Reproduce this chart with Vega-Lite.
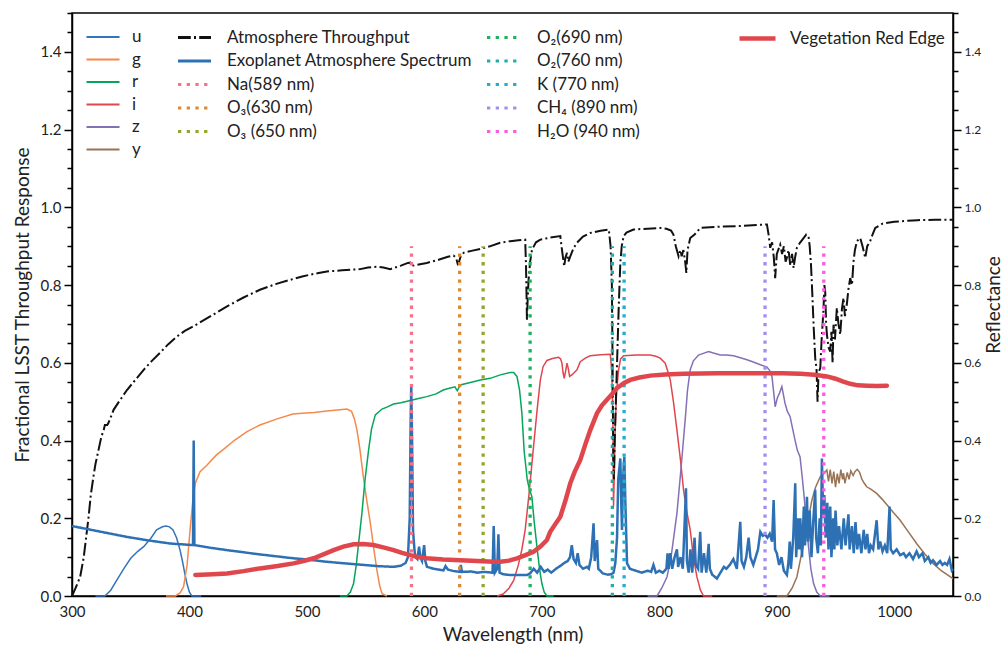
{
"$schema": "https://vega.github.io/schema/vega-lite/v6.json",
"autosize": "none",
"width": 881,
"height": 583,
"padding": {"left": 72, "top": 13, "right": 52, "bottom": 57},
"background": "white",
"config": {
  "view": {"stroke": "black", "strokeWidth": 1.5},
  "font": "Lato",
  "axis": {"grid": false, "domainColor": "black", "domainWidth": 1.5, "tickColor": "black", "labelColor": "#222", "titleColor": "#222", "labelFont": "Lato", "titleFont": "Lato", "titleFontWeight": "normal"},
  "legend": {"labelFont": "Lato", "labelFontSize": 17, "labelColor": "#222", "padding": 0, "labelLimit": 400}
},
"datasets": {
"filters": [
{"b":"u","wl":320,"t":0},{"b":"u","wl":328,"t":0},{"b":"u","wl":333,"t":0.015},{"b":"u","wl":338,"t":0.04},{"b":"u","wl":344,"t":0.07},{"b":"u","wl":350,"t":0.097},{"b":"u","wl":356,"t":0.115},{"b":"u","wl":361,"t":0.127},{"b":"u","wl":367,"t":0.148},{"b":"u","wl":372,"t":0.17},{"b":"u","wl":377,"t":0.178},{"b":"u","wl":380,"t":0.18},{"b":"u","wl":383,"t":0.178},{"b":"u","wl":386,"t":0.17},{"b":"u","wl":389,"t":0.15},{"b":"u","wl":392,"t":0.118},{"b":"u","wl":394,"t":0.09},{"b":"u","wl":396,"t":0.058},{"b":"u","wl":398,"t":0.03},{"b":"u","wl":400,"t":0.01},{"b":"u","wl":402,"t":0},{"b":"u","wl":410,"t":0},
{"b":"g","wl":380,"t":0},{"b":"g","wl":388,"t":0},{"b":"g","wl":392,"t":0.008},{"b":"g","wl":395,"t":0.024},{"b":"g","wl":398,"t":0.08},{"b":"g","wl":400.5,"t":0.17},{"b":"g","wl":403,"t":0.25},{"b":"g","wl":405,"t":0.29},{"b":"g","wl":409,"t":0.32},{"b":"g","wl":415,"t":0.337},{"b":"g","wl":423,"t":0.363},{"b":"g","wl":430,"t":0.38},{"b":"g","wl":438,"t":0.4},{"b":"g","wl":449,"t":0.423},{"b":"g","wl":460,"t":0.44},{"b":"g","wl":474,"t":0.455},{"b":"g","wl":488,"t":0.468},{"b":"g","wl":496,"t":0.47},{"b":"g","wl":506,"t":0.472},{"b":"g","wl":517,"t":0.476},{"b":"g","wl":528,"t":0.479},{"b":"g","wl":534,"t":0.481},{"b":"g","wl":538,"t":0.475},{"b":"g","wl":540.5,"t":0.455},{"b":"g","wl":542.6,"t":0.427},{"b":"g","wl":545,"t":0.38},{"b":"g","wl":548,"t":0.307},{"b":"g","wl":551,"t":0.245},{"b":"g","wl":554,"t":0.187},{"b":"g","wl":557,"t":0.12},{"b":"g","wl":559.6,"t":0.066},{"b":"g","wl":562,"t":0.025},{"b":"g","wl":564,"t":0.006},{"b":"g","wl":568,"t":0},
{"b":"r","wl":528,"t":0},{"b":"r","wl":534,"t":0},{"b":"r","wl":537,"t":0.01},{"b":"r","wl":539.7,"t":0.032},{"b":"r","wl":542,"t":0.08},{"b":"r","wl":544.5,"t":0.15},{"b":"r","wl":546.8,"t":0.213},{"b":"r","wl":549.5,"t":0.3},{"b":"r","wl":552.5,"t":0.376},{"b":"r","wl":555,"t":0.43},{"b":"r","wl":558.2,"t":0.466},{"b":"r","wl":563.9,"t":0.481},{"b":"r","wl":568,"t":0.486},{"b":"r","wl":573.8,"t":0.494},{"b":"r","wl":580,"t":0.497},{"b":"r","wl":588,"t":0.503},{"b":"r","wl":595,"t":0.508},{"b":"r","wl":602,"t":0.513},{"b":"r","wl":610,"t":0.52},{"b":"r","wl":616,"t":0.53},{"b":"r","wl":622,"t":0.535},{"b":"r","wl":626,"t":0.538},{"b":"r","wl":628,"t":0.528},{"b":"r","wl":630.5,"t":0.543},{"b":"r","wl":640,"t":0.55},{"b":"r","wl":647.6,"t":0.556},{"b":"r","wl":656,"t":0.56},{"b":"r","wl":664.6,"t":0.569},{"b":"r","wl":673,"t":0.575},{"b":"r","wl":676,"t":0.575},{"b":"r","wl":678.8,"t":0.565},{"b":"r","wl":681,"t":0.53},{"b":"r","wl":683,"t":0.47},{"b":"r","wl":685,"t":0.37},{"b":"r","wl":686.5,"t":0.33},{"b":"r","wl":687.5,"t":0.3},{"b":"r","wl":689,"t":0.28},{"b":"r","wl":691.5,"t":0.255},{"b":"r","wl":693.5,"t":0.19},{"b":"r","wl":695.8,"t":0.127},{"b":"r","wl":698,"t":0.07},{"b":"r","wl":700,"t":0.032},{"b":"r","wl":702,"t":0.01},{"b":"r","wl":704.3,"t":0},{"b":"r","wl":710,"t":0},
{"b":"i","wl":662,"t":0},{"b":"i","wl":667,"t":0.005},{"b":"i","wl":672,"t":0.02},{"b":"i","wl":676,"t":0.04},{"b":"i","wl":680,"t":0.08},{"b":"i","wl":683,"t":0.12},{"b":"i","wl":685.8,"t":0.17},{"b":"i","wl":689,"t":0.26},{"b":"i","wl":692.9,"t":0.384},{"b":"i","wl":696,"t":0.48},{"b":"i","wl":698.7,"t":0.556},{"b":"i","wl":701,"t":0.59},{"b":"i","wl":704.3,"t":0.606},{"b":"i","wl":709,"t":0.611},{"b":"i","wl":714.2,"t":0.614},{"b":"i","wl":716,"t":0.61},{"b":"i","wl":717.1,"t":0.599},{"b":"i","wl":718,"t":0.575},{"b":"i","wl":719,"t":0.56},{"b":"i","wl":720,"t":0.575},{"b":"i","wl":721.4,"t":0.599},{"b":"i","wl":722.5,"t":0.585},{"b":"i","wl":723.6,"t":0.565},{"b":"i","wl":726,"t":0.57},{"b":"i","wl":729.9,"t":0.582},{"b":"i","wl":732.7,"t":0.603},{"b":"i","wl":737,"t":0.612},{"b":"i","wl":741.2,"t":0.618},{"b":"i","wl":750,"t":0.621},{"b":"i","wl":758.2,"t":0.622},{"b":"i","wl":759.5,"t":0.58},{"b":"i","wl":760.5,"t":0.45},{"b":"i","wl":761,"t":0.23},{"b":"i","wl":761.8,"t":0.33},{"b":"i","wl":762.4,"t":0.427},{"b":"i","wl":763.5,"t":0.52},{"b":"i","wl":765.3,"t":0.582},{"b":"i","wl":767,"t":0.61},{"b":"i","wl":769.6,"t":0.618},{"b":"i","wl":780,"t":0.62},{"b":"i","wl":792.3,"t":0.62},{"b":"i","wl":797,"t":0.617},{"b":"i","wl":800.8,"t":0.612},{"b":"i","wl":805,"t":0.599},{"b":"i","wl":807,"t":0.58},{"b":"i","wl":809.3,"t":0.556},{"b":"i","wl":812,"t":0.5},{"b":"i","wl":815,"t":0.427},{"b":"i","wl":818,"t":0.35},{"b":"i","wl":820.6,"t":0.273},{"b":"i","wl":823.5,"t":0.215},{"b":"i","wl":826.3,"t":0.17},{"b":"i","wl":829,"t":0.1},{"b":"i","wl":832,"t":0.049},{"b":"i","wl":835,"t":0.015},{"b":"i","wl":837.7,"t":0},{"b":"i","wl":845,"t":0},
{"b":"z","wl":790,"t":0},{"b":"z","wl":798,"t":0},{"b":"z","wl":802,"t":0.02},{"b":"z","wl":806.5,"t":0.049},{"b":"z","wl":810,"t":0.1},{"b":"z","wl":815,"t":0.213},{"b":"z","wl":818.5,"t":0.33},{"b":"z","wl":822,"t":0.453},{"b":"z","wl":824,"t":0.53},{"b":"z","wl":826.3,"t":0.582},{"b":"z","wl":829,"t":0.605},{"b":"z","wl":833.4,"t":0.62},{"b":"z","wl":838,"t":0.625},{"b":"z","wl":841.9,"t":0.629},{"b":"z","wl":846,"t":0.625},{"b":"z","wl":851.9,"t":0.62},{"b":"z","wl":857,"t":0.62},{"b":"z","wl":863.2,"t":0.618},{"b":"z","wl":869,"t":0.613},{"b":"z","wl":874.6,"t":0.608},{"b":"z","wl":880,"t":0.602},{"b":"z","wl":886,"t":0.595},{"b":"z","wl":891.6,"t":0.589},{"b":"z","wl":894,"t":0.58},{"b":"z","wl":895.9,"t":0.565},{"b":"z","wl":897.5,"t":0.52},{"b":"z","wl":898.6,"t":0.487},{"b":"z","wl":900.5,"t":0.51},{"b":"z","wl":902.3,"t":0.522},{"b":"z","wl":904.3,"t":0.539},{"b":"z","wl":905.5,"t":0.52},{"b":"z","wl":907,"t":0.496},{"b":"z","wl":909,"t":0.475},{"b":"z","wl":911.3,"t":0.462},{"b":"z","wl":913.5,"t":0.43},{"b":"z","wl":915.6,"t":0.4},{"b":"z","wl":917.5,"t":0.375},{"b":"z","wl":919.8,"t":0.358},{"b":"z","wl":921.5,"t":0.31},{"b":"z","wl":923.3,"t":0.255},{"b":"z","wl":925,"t":0.19},{"b":"z","wl":927,"t":0.127},{"b":"z","wl":929,"t":0.07},{"b":"z","wl":931.3,"t":0.032},{"b":"z","wl":934,"t":0.01},{"b":"z","wl":937,"t":0},{"b":"z","wl":945,"t":0},
{"b":"y","wl":900,"t":0},{"b":"y","wl":908.6,"t":0},{"b":"y","wl":913,"t":0.02},{"b":"y","wl":917.1,"t":0.049},{"b":"y","wl":920.5,"t":0.1},{"b":"y","wl":924.2,"t":0.152},{"b":"y","wl":927,"t":0.2},{"b":"y","wl":929.9,"t":0.247},{"b":"y","wl":933,"t":0.28},{"b":"y","wl":937,"t":0.307},{"b":"y","wl":940,"t":0.315},{"b":"y","wl":942.6,"t":0.324},{"b":"y","wl":944,"t":0.295},{"b":"y","wl":945.5,"t":0.325},{"b":"y","wl":947,"t":0.29},{"b":"y","wl":948.5,"t":0.32},{"b":"y","wl":950,"t":0.28},{"b":"y","wl":951.5,"t":0.315},{"b":"y","wl":953,"t":0.29},{"b":"y","wl":954.5,"t":0.325},{"b":"y","wl":956,"t":0.3},{"b":"y","wl":956.8,"t":0.316},{"b":"y","wl":958,"t":0.29},{"b":"y","wl":960,"t":0.318},{"b":"y","wl":961.5,"t":0.3},{"b":"y","wl":963,"t":0.322},{"b":"y","wl":965,"t":0.31},{"b":"y","wl":966.5,"t":0.32},{"b":"y","wl":968.5,"t":0.326},{"b":"y","wl":970.5,"t":0.318},{"b":"y","wl":972.5,"t":0.3},{"b":"y","wl":974.5,"t":0.29},{"b":"y","wl":976.5,"t":0.281},{"b":"y","wl":980,"t":0.275},{"b":"y","wl":985,"t":0.264},{"b":"y","wl":990,"t":0.248},{"b":"y","wl":995,"t":0.23},{"b":"y","wl":1000,"t":0.212},{"b":"y","wl":1005,"t":0.195},{"b":"y","wl":1012,"t":0.165},{"b":"y","wl":1019,"t":0.135},{"b":"y","wl":1026,"t":0.108},{"b":"y","wl":1033,"t":0.084},{"b":"y","wl":1040,"t":0.065},{"b":"y","wl":1045,"t":0.055},{"b":"y","wl":1050,"t":0.045}
],
"spectra": [
{"s":"Atmosphere Throughput","wl":300,"t":0},{"s":"Atmosphere Throughput","wl":303,"t":0.02},{"s":"Atmosphere Throughput","wl":307,"t":0.05},{"s":"Atmosphere Throughput","wl":310,"t":0.1},{"s":"Atmosphere Throughput","wl":312,"t":0.15},{"s":"Atmosphere Throughput","wl":314,"t":0.2},{"s":"Atmosphere Throughput","wl":316,"t":0.26},{"s":"Atmosphere Throughput","wl":318.4,"t":0.31},{"s":"Atmosphere Throughput","wl":320,"t":0.34},{"s":"Atmosphere Throughput","wl":322.6,"t":0.376},{"s":"Atmosphere Throughput","wl":325,"t":0.41},{"s":"Atmosphere Throughput","wl":327,"t":0.427},{"s":"Atmosphere Throughput","wl":328,"t":0.44},{"s":"Atmosphere Throughput","wl":330,"t":0.44},{"s":"Atmosphere Throughput","wl":331,"t":0.445},{"s":"Atmosphere Throughput","wl":333,"t":0.46},{"s":"Atmosphere Throughput","wl":335.4,"t":0.479},{"s":"Atmosphere Throughput","wl":340,"t":0.5},{"s":"Atmosphere Throughput","wl":346.8,"t":0.53},{"s":"Atmosphere Throughput","wl":355,"t":0.56},{"s":"Atmosphere Throughput","wl":361,"t":0.582},{"s":"Atmosphere Throughput","wl":368,"t":0.605},{"s":"Atmosphere Throughput","wl":375,"t":0.626},{"s":"Atmosphere Throughput","wl":382,"t":0.648},{"s":"Atmosphere Throughput","wl":389.4,"t":0.668},{"s":"Atmosphere Throughput","wl":396,"t":0.682},{"s":"Atmosphere Throughput","wl":403.5,"t":0.694},{"s":"Atmosphere Throughput","wl":418,"t":0.72},{"s":"Atmosphere Throughput","wl":432,"t":0.745},{"s":"Atmosphere Throughput","wl":446,"t":0.768},{"s":"Atmosphere Throughput","wl":460,"t":0.788},{"s":"Atmosphere Throughput","wl":474,"t":0.803},{"s":"Atmosphere Throughput","wl":488.6,"t":0.816},{"s":"Atmosphere Throughput","wl":496,"t":0.822},{"s":"Atmosphere Throughput","wl":503,"t":0.827},{"s":"Atmosphere Throughput","wl":510,"t":0.831},{"s":"Atmosphere Throughput","wl":517,"t":0.835},{"s":"Atmosphere Throughput","wl":530,"t":0.838},{"s":"Atmosphere Throughput","wl":545.4,"t":0.841},{"s":"Atmosphere Throughput","wl":552,"t":0.845},{"s":"Atmosphere Throughput","wl":559.6,"t":0.847},{"s":"Atmosphere Throughput","wl":565,"t":0.845},{"s":"Atmosphere Throughput","wl":571,"t":0.841},{"s":"Atmosphere Throughput","wl":580,"t":0.85},{"s":"Atmosphere Throughput","wl":586,"t":0.857},{"s":"Atmosphere Throughput","wl":588,"t":0.858},{"s":"Atmosphere Throughput","wl":589,"t":0.848},{"s":"Atmosphere Throughput","wl":590,"t":0.85},{"s":"Atmosphere Throughput","wl":594,"t":0.852},{"s":"Atmosphere Throughput","wl":602,"t":0.857},{"s":"Atmosphere Throughput","wl":612,"t":0.865},{"s":"Atmosphere Throughput","wl":620,"t":0.873},{"s":"Atmosphere Throughput","wl":624.8,"t":0.876},{"s":"Atmosphere Throughput","wl":627,"t":0.87},{"s":"Atmosphere Throughput","wl":628.3,"t":0.855},{"s":"Atmosphere Throughput","wl":629.5,"t":0.86},{"s":"Atmosphere Throughput","wl":631,"t":0.875},{"s":"Atmosphere Throughput","wl":633.4,"t":0.883},{"s":"Atmosphere Throughput","wl":640,"t":0.888},{"s":"Atmosphere Throughput","wl":647.6,"t":0.893},{"s":"Atmosphere Throughput","wl":655,"t":0.899},{"s":"Atmosphere Throughput","wl":664.5,"t":0.909},{"s":"Atmosphere Throughput","wl":673,"t":0.913},{"s":"Atmosphere Throughput","wl":680,"t":0.915},{"s":"Atmosphere Throughput","wl":685.8,"t":0.917},{"s":"Atmosphere Throughput","wl":686.5,"t":0.85},{"s":"Atmosphere Throughput","wl":687.3,"t":0.711},{"s":"Atmosphere Throughput","wl":688,"t":0.77},{"s":"Atmosphere Throughput","wl":688.7,"t":0.814},{"s":"Atmosphere Throughput","wl":690,"t":0.86},{"s":"Atmosphere Throughput","wl":691.6,"t":0.891},{"s":"Atmosphere Throughput","wl":695,"t":0.91},{"s":"Atmosphere Throughput","wl":698.7,"t":0.917},{"s":"Atmosphere Throughput","wl":707,"t":0.922},{"s":"Atmosphere Throughput","wl":715.7,"t":0.926},{"s":"Atmosphere Throughput","wl":717.1,"t":0.891},{"s":"Atmosphere Throughput","wl":719,"t":0.848},{"s":"Atmosphere Throughput","wl":720,"t":0.87},{"s":"Atmosphere Throughput","wl":721.4,"t":0.883},{"s":"Atmosphere Throughput","wl":722.5,"t":0.86},{"s":"Atmosphere Throughput","wl":724.2,"t":0.874},{"s":"Atmosphere Throughput","wl":727,"t":0.895},{"s":"Atmosphere Throughput","wl":729.9,"t":0.909},{"s":"Atmosphere Throughput","wl":735,"t":0.925},{"s":"Atmosphere Throughput","wl":741.2,"t":0.934},{"s":"Atmosphere Throughput","wl":750,"t":0.94},{"s":"Atmosphere Throughput","wl":757,"t":0.943},{"s":"Atmosphere Throughput","wl":758.5,"t":0.9},{"s":"Atmosphere Throughput","wl":759.6,"t":0.8},{"s":"Atmosphere Throughput","wl":760.2,"t":0.6},{"s":"Atmosphere Throughput","wl":760.8,"t":0.35},{"s":"Atmosphere Throughput","wl":761.3,"t":0.3},{"s":"Atmosphere Throughput","wl":762,"t":0.4},{"s":"Atmosphere Throughput","wl":763,"t":0.5},{"s":"Atmosphere Throughput","wl":764,"t":0.6},{"s":"Atmosphere Throughput","wl":765.5,"t":0.75},{"s":"Atmosphere Throughput","wl":766.8,"t":0.857},{"s":"Atmosphere Throughput","wl":768,"t":0.9},{"s":"Atmosphere Throughput","wl":769.6,"t":0.926},{"s":"Atmosphere Throughput","wl":772,"t":0.935},{"s":"Atmosphere Throughput","wl":778,"t":0.943},{"s":"Atmosphere Throughput","wl":790,"t":0.945},{"s":"Atmosphere Throughput","wl":800.8,"t":0.947},{"s":"Atmosphere Throughput","wl":806,"t":0.945},{"s":"Atmosphere Throughput","wl":810,"t":0.94},{"s":"Atmosphere Throughput","wl":812,"t":0.93},{"s":"Atmosphere Throughput","wl":814,"t":0.9},{"s":"Atmosphere Throughput","wl":816.4,"t":0.874},{"s":"Atmosphere Throughput","wl":818,"t":0.89},{"s":"Atmosphere Throughput","wl":819,"t":0.874},{"s":"Atmosphere Throughput","wl":820.5,"t":0.89},{"s":"Atmosphere Throughput","wl":822,"t":0.86},{"s":"Atmosphere Throughput","wl":823,"t":0.831},{"s":"Atmosphere Throughput","wl":824,"t":0.89},{"s":"Atmosphere Throughput","wl":826.3,"t":0.921},{"s":"Atmosphere Throughput","wl":830,"t":0.93},{"s":"Atmosphere Throughput","wl":834.9,"t":0.947},{"s":"Atmosphere Throughput","wl":850,"t":0.95},{"s":"Atmosphere Throughput","wl":870,"t":0.952},{"s":"Atmosphere Throughput","wl":885,"t":0.955},{"s":"Atmosphere Throughput","wl":891.6,"t":0.956},{"s":"Atmosphere Throughput","wl":893,"t":0.93},{"s":"Atmosphere Throughput","wl":894.4,"t":0.896},{"s":"Atmosphere Throughput","wl":896,"t":0.91},{"s":"Atmosphere Throughput","wl":897.5,"t":0.87},{"s":"Atmosphere Throughput","wl":898.6,"t":0.818},{"s":"Atmosphere Throughput","wl":900,"t":0.88},{"s":"Atmosphere Throughput","wl":902.9,"t":0.904},{"s":"Atmosphere Throughput","wl":904.5,"t":0.88},{"s":"Atmosphere Throughput","wl":906,"t":0.9},{"s":"Atmosphere Throughput","wl":907.5,"t":0.86},{"s":"Atmosphere Throughput","wl":908.6,"t":0.87},{"s":"Atmosphere Throughput","wl":910,"t":0.89},{"s":"Atmosphere Throughput","wl":911.5,"t":0.85},{"s":"Atmosphere Throughput","wl":913,"t":0.88},{"s":"Atmosphere Throughput","wl":914.3,"t":0.844},{"s":"Atmosphere Throughput","wl":915.5,"t":0.87},{"s":"Atmosphere Throughput","wl":917.1,"t":0.896},{"s":"Atmosphere Throughput","wl":920,"t":0.91},{"s":"Atmosphere Throughput","wl":922.8,"t":0.921},{"s":"Atmosphere Throughput","wl":925,"t":0.93},{"s":"Atmosphere Throughput","wl":927,"t":0.926},{"s":"Atmosphere Throughput","wl":928,"t":0.9},{"s":"Atmosphere Throughput","wl":929.1,"t":0.853},{"s":"Atmosphere Throughput","wl":930.2,"t":0.78},{"s":"Atmosphere Throughput","wl":931.3,"t":0.698},{"s":"Atmosphere Throughput","wl":932.7,"t":0.612},{"s":"Atmosphere Throughput","wl":933.8,"t":0.585},{"s":"Atmosphere Throughput","wl":934.7,"t":0.5},{"s":"Atmosphere Throughput","wl":935.5,"t":0.575},{"s":"Atmosphere Throughput","wl":937,"t":0.586},{"s":"Atmosphere Throughput","wl":938,"t":0.65},{"s":"Atmosphere Throughput","wl":939,"t":0.7},{"s":"Atmosphere Throughput","wl":939.8,"t":0.741},{"s":"Atmosphere Throughput","wl":940.5,"t":0.8},{"s":"Atmosphere Throughput","wl":941.2,"t":0.784},{"s":"Atmosphere Throughput","wl":942,"t":0.7},{"s":"Atmosphere Throughput","wl":942.7,"t":0.672},{"s":"Atmosphere Throughput","wl":944,"t":0.64},{"s":"Atmosphere Throughput","wl":945.5,"t":0.629},{"s":"Atmosphere Throughput","wl":946.5,"t":0.68},{"s":"Atmosphere Throughput","wl":947.5,"t":0.6},{"s":"Atmosphere Throughput","wl":948.3,"t":0.698},{"s":"Atmosphere Throughput","wl":949.5,"t":0.66},{"s":"Atmosphere Throughput","wl":951.1,"t":0.741},{"s":"Atmosphere Throughput","wl":952.5,"t":0.7},{"s":"Atmosphere Throughput","wl":954,"t":0.672},{"s":"Atmosphere Throughput","wl":955.5,"t":0.74},{"s":"Atmosphere Throughput","wl":956.8,"t":0.767},{"s":"Atmosphere Throughput","wl":958,"t":0.72},{"s":"Atmosphere Throughput","wl":959.6,"t":0.75},{"s":"Atmosphere Throughput","wl":961,"t":0.79},{"s":"Atmosphere Throughput","wl":962.5,"t":0.818},{"s":"Atmosphere Throughput","wl":964,"t":0.8},{"s":"Atmosphere Throughput","wl":965.3,"t":0.861},{"s":"Atmosphere Throughput","wl":966.5,"t":0.89},{"s":"Atmosphere Throughput","wl":968.2,"t":0.913},{"s":"Atmosphere Throughput","wl":971,"t":0.921},{"s":"Atmosphere Throughput","wl":973,"t":0.9},{"s":"Atmosphere Throughput","wl":975.3,"t":0.87},{"s":"Atmosphere Throughput","wl":977,"t":0.9},{"s":"Atmosphere Throughput","wl":979.5,"t":0.913},{"s":"Atmosphere Throughput","wl":981.5,"t":0.93},{"s":"Atmosphere Throughput","wl":983.8,"t":0.947},{"s":"Atmosphere Throughput","wl":990,"t":0.958},{"s":"Atmosphere Throughput","wl":1000,"t":0.963},{"s":"Atmosphere Throughput","wl":1010,"t":0.965},{"s":"Atmosphere Throughput","wl":1020,"t":0.967},{"s":"Atmosphere Throughput","wl":1035,"t":0.968},{"s":"Atmosphere Throughput","wl":1050,"t":0.968},
{"s":"Exoplanet Atmosphere Spectrum","wl":300,"t":0.18},{"s":"Exoplanet Atmosphere Spectrum","wl":320,"t":0.168},{"s":"Exoplanet Atmosphere Spectrum","wl":346.8,"t":0.152},{"s":"Exoplanet Atmosphere Spectrum","wl":365,"t":0.143},{"s":"Exoplanet Atmosphere Spectrum","wl":383.7,"t":0.135},{"s":"Exoplanet Atmosphere Spectrum","wl":403,"t":0.131},{"s":"Exoplanet Atmosphere Spectrum","wl":403.6,"t":0.4},{"s":"Exoplanet Atmosphere Spectrum","wl":404.2,"t":0.131},{"s":"Exoplanet Atmosphere Spectrum","wl":418,"t":0.124},{"s":"Exoplanet Atmosphere Spectrum","wl":432,"t":0.118},{"s":"Exoplanet Atmosphere Spectrum","wl":460,"t":0.107},{"s":"Exoplanet Atmosphere Spectrum","wl":488.6,"t":0.097},{"s":"Exoplanet Atmosphere Spectrum","wl":500,"t":0.094},{"s":"Exoplanet Atmosphere Spectrum","wl":517,"t":0.088},{"s":"Exoplanet Atmosphere Spectrum","wl":540,"t":0.082},{"s":"Exoplanet Atmosphere Spectrum","wl":559.6,"t":0.077},{"s":"Exoplanet Atmosphere Spectrum","wl":573.8,"t":0.075},{"s":"Exoplanet Atmosphere Spectrum","wl":580,"t":0.078},{"s":"Exoplanet Atmosphere Spectrum","wl":584,"t":0.085},{"s":"Exoplanet Atmosphere Spectrum","wl":586,"t":0.1},{"s":"Exoplanet Atmosphere Spectrum","wl":587.5,"t":0.2},{"s":"Exoplanet Atmosphere Spectrum","wl":588.3,"t":0.45},{"s":"Exoplanet Atmosphere Spectrum","wl":588.8,"t":0.539},{"s":"Exoplanet Atmosphere Spectrum","wl":589.5,"t":0.4},{"s":"Exoplanet Atmosphere Spectrum","wl":590.3,"t":0.17},{"s":"Exoplanet Atmosphere Spectrum","wl":591.5,"t":0.12},{"s":"Exoplanet Atmosphere Spectrum","wl":592.3,"t":0.1},{"s":"Exoplanet Atmosphere Spectrum","wl":594,"t":0.095},{"s":"Exoplanet Atmosphere Spectrum","wl":595.5,"t":0.127},{"s":"Exoplanet Atmosphere Spectrum","wl":596.5,"t":0.1},{"s":"Exoplanet Atmosphere Spectrum","wl":598,"t":0.09},{"s":"Exoplanet Atmosphere Spectrum","wl":599.8,"t":0.131},{"s":"Exoplanet Atmosphere Spectrum","wl":600.8,"t":0.09},{"s":"Exoplanet Atmosphere Spectrum","wl":602.2,"t":0.075},{"s":"Exoplanet Atmosphere Spectrum","wl":608,"t":0.07},{"s":"Exoplanet Atmosphere Spectrum","wl":612,"t":0.068},{"s":"Exoplanet Atmosphere Spectrum","wl":616.3,"t":0.066},{"s":"Exoplanet Atmosphere Spectrum","wl":618,"t":0.077},{"s":"Exoplanet Atmosphere Spectrum","wl":620,"t":0.068},{"s":"Exoplanet Atmosphere Spectrum","wl":625,"t":0.064},{"s":"Exoplanet Atmosphere Spectrum","wl":630.5,"t":0.062},{"s":"Exoplanet Atmosphere Spectrum","wl":631,"t":0.08},{"s":"Exoplanet Atmosphere Spectrum","wl":632,"t":0.062},{"s":"Exoplanet Atmosphere Spectrum","wl":640,"t":0.063},{"s":"Exoplanet Atmosphere Spectrum","wl":645,"t":0.06},{"s":"Exoplanet Atmosphere Spectrum","wl":650,"t":0.062},{"s":"Exoplanet Atmosphere Spectrum","wl":655,"t":0.061},{"s":"Exoplanet Atmosphere Spectrum","wl":658,"t":0.06},{"s":"Exoplanet Atmosphere Spectrum","wl":659,"t":0.18},{"s":"Exoplanet Atmosphere Spectrum","wl":660,"t":0.06},{"s":"Exoplanet Atmosphere Spectrum","wl":662,"t":0.07},{"s":"Exoplanet Atmosphere Spectrum","wl":663,"t":0.159},{"s":"Exoplanet Atmosphere Spectrum","wl":664,"t":0.06},{"s":"Exoplanet Atmosphere Spectrum","wl":667,"t":0.056},{"s":"Exoplanet Atmosphere Spectrum","wl":673,"t":0.054},{"s":"Exoplanet Atmosphere Spectrum","wl":680,"t":0.054},{"s":"Exoplanet Atmosphere Spectrum","wl":687.3,"t":0.054},{"s":"Exoplanet Atmosphere Spectrum","wl":690,"t":0.058},{"s":"Exoplanet Atmosphere Spectrum","wl":693,"t":0.07},{"s":"Exoplanet Atmosphere Spectrum","wl":696,"t":0.06},{"s":"Exoplanet Atmosphere Spectrum","wl":699,"t":0.075},{"s":"Exoplanet Atmosphere Spectrum","wl":702,"t":0.062},{"s":"Exoplanet Atmosphere Spectrum","wl":705,"t":0.068},{"s":"Exoplanet Atmosphere Spectrum","wl":708,"t":0.06},{"s":"Exoplanet Atmosphere Spectrum","wl":712,"t":0.07},{"s":"Exoplanet Atmosphere Spectrum","wl":716,"t":0.078},{"s":"Exoplanet Atmosphere Spectrum","wl":719,"t":0.085},{"s":"Exoplanet Atmosphere Spectrum","wl":722,"t":0.09},{"s":"Exoplanet Atmosphere Spectrum","wl":724,"t":0.1},{"s":"Exoplanet Atmosphere Spectrum","wl":725.5,"t":0.131},{"s":"Exoplanet Atmosphere Spectrum","wl":727,"t":0.095},{"s":"Exoplanet Atmosphere Spectrum","wl":729,"t":0.085},{"s":"Exoplanet Atmosphere Spectrum","wl":730.5,"t":0.11},{"s":"Exoplanet Atmosphere Spectrum","wl":732,"t":0.08},{"s":"Exoplanet Atmosphere Spectrum","wl":735,"t":0.07},{"s":"Exoplanet Atmosphere Spectrum","wl":738.4,"t":0.075},{"s":"Exoplanet Atmosphere Spectrum","wl":740,"t":0.07},{"s":"Exoplanet Atmosphere Spectrum","wl":742,"t":0.1},{"s":"Exoplanet Atmosphere Spectrum","wl":744,"t":0.187},{"s":"Exoplanet Atmosphere Spectrum","wl":745,"t":0.09},{"s":"Exoplanet Atmosphere Spectrum","wl":747,"t":0.144},{"s":"Exoplanet Atmosphere Spectrum","wl":748,"t":0.07},{"s":"Exoplanet Atmosphere Spectrum","wl":752,"t":0.058},{"s":"Exoplanet Atmosphere Spectrum","wl":756,"t":0.055},{"s":"Exoplanet Atmosphere Spectrum","wl":759,"t":0.056},{"s":"Exoplanet Atmosphere Spectrum","wl":761,"t":0.06},{"s":"Exoplanet Atmosphere Spectrum","wl":762.5,"t":0.084},{"s":"Exoplanet Atmosphere Spectrum","wl":764,"t":0.15},{"s":"Exoplanet Atmosphere Spectrum","wl":765,"t":0.3},{"s":"Exoplanet Atmosphere Spectrum","wl":766.8,"t":0.354},{"s":"Exoplanet Atmosphere Spectrum","wl":767.5,"t":0.25},{"s":"Exoplanet Atmosphere Spectrum","wl":768.2,"t":0.17},{"s":"Exoplanet Atmosphere Spectrum","wl":769,"t":0.3},{"s":"Exoplanet Atmosphere Spectrum","wl":770.2,"t":0.358},{"s":"Exoplanet Atmosphere Spectrum","wl":771,"t":0.25},{"s":"Exoplanet Atmosphere Spectrum","wl":772.5,"t":0.084},{"s":"Exoplanet Atmosphere Spectrum","wl":775,"t":0.07},{"s":"Exoplanet Atmosphere Spectrum","wl":780,"t":0.065},{"s":"Exoplanet Atmosphere Spectrum","wl":785,"t":0.06},{"s":"Exoplanet Atmosphere Spectrum","wl":790,"t":0.065},{"s":"Exoplanet Atmosphere Spectrum","wl":793,"t":0.062},{"s":"Exoplanet Atmosphere Spectrum","wl":795,"t":0.08},{"s":"Exoplanet Atmosphere Spectrum","wl":797,"t":0.06},{"s":"Exoplanet Atmosphere Spectrum","wl":800,"t":0.065},{"s":"Exoplanet Atmosphere Spectrum","wl":803,"t":0.06},{"s":"Exoplanet Atmosphere Spectrum","wl":806,"t":0.07},{"s":"Exoplanet Atmosphere Spectrum","wl":807,"t":0.11},{"s":"Exoplanet Atmosphere Spectrum","wl":808,"t":0.07},{"s":"Exoplanet Atmosphere Spectrum","wl":809.4,"t":0.11},{"s":"Exoplanet Atmosphere Spectrum","wl":811,"t":0.07},{"s":"Exoplanet Atmosphere Spectrum","wl":813,"t":0.1},{"s":"Exoplanet Atmosphere Spectrum","wl":815,"t":0.12},{"s":"Exoplanet Atmosphere Spectrum","wl":816,"t":0.075},{"s":"Exoplanet Atmosphere Spectrum","wl":818,"t":0.1},{"s":"Exoplanet Atmosphere Spectrum","wl":820,"t":0.07},{"s":"Exoplanet Atmosphere Spectrum","wl":822.7,"t":0.277},{"s":"Exoplanet Atmosphere Spectrum","wl":823.5,"t":0.09},{"s":"Exoplanet Atmosphere Spectrum","wl":825,"t":0.06},{"s":"Exoplanet Atmosphere Spectrum","wl":826.5,"t":0.12},{"s":"Exoplanet Atmosphere Spectrum","wl":828,"t":0.06},{"s":"Exoplanet Atmosphere Spectrum","wl":830,"t":0.15},{"s":"Exoplanet Atmosphere Spectrum","wl":831,"t":0.08},{"s":"Exoplanet Atmosphere Spectrum","wl":833,"t":0.07},{"s":"Exoplanet Atmosphere Spectrum","wl":834.8,"t":0.165},{"s":"Exoplanet Atmosphere Spectrum","wl":836,"t":0.06},{"s":"Exoplanet Atmosphere Spectrum","wl":838,"t":0.11},{"s":"Exoplanet Atmosphere Spectrum","wl":840,"t":0.06},{"s":"Exoplanet Atmosphere Spectrum","wl":842,"t":0.134},{"s":"Exoplanet Atmosphere Spectrum","wl":843,"t":0.07},{"s":"Exoplanet Atmosphere Spectrum","wl":845,"t":0.055},{"s":"Exoplanet Atmosphere Spectrum","wl":847,"t":0.05},{"s":"Exoplanet Atmosphere Spectrum","wl":849,"t":0.045},{"s":"Exoplanet Atmosphere Spectrum","wl":852,"t":0.06},{"s":"Exoplanet Atmosphere Spectrum","wl":855,"t":0.075},{"s":"Exoplanet Atmosphere Spectrum","wl":857,"t":0.07},{"s":"Exoplanet Atmosphere Spectrum","wl":860,"t":0.08},{"s":"Exoplanet Atmosphere Spectrum","wl":863,"t":0.095},{"s":"Exoplanet Atmosphere Spectrum","wl":866,"t":0.07},{"s":"Exoplanet Atmosphere Spectrum","wl":868.9,"t":0.191},{"s":"Exoplanet Atmosphere Spectrum","wl":870,"t":0.09},{"s":"Exoplanet Atmosphere Spectrum","wl":872,"t":0.075},{"s":"Exoplanet Atmosphere Spectrum","wl":874,"t":0.1},{"s":"Exoplanet Atmosphere Spectrum","wl":876,"t":0.15},{"s":"Exoplanet Atmosphere Spectrum","wl":877.5,"t":0.1},{"s":"Exoplanet Atmosphere Spectrum","wl":880,"t":0.08},{"s":"Exoplanet Atmosphere Spectrum","wl":882,"t":0.1},{"s":"Exoplanet Atmosphere Spectrum","wl":884,"t":0.12},{"s":"Exoplanet Atmosphere Spectrum","wl":886,"t":0.165},{"s":"Exoplanet Atmosphere Spectrum","wl":888,"t":0.155},{"s":"Exoplanet Atmosphere Spectrum","wl":890,"t":0.158},{"s":"Exoplanet Atmosphere Spectrum","wl":892,"t":0.15},{"s":"Exoplanet Atmosphere Spectrum","wl":894,"t":0.16},{"s":"Exoplanet Atmosphere Spectrum","wl":896,"t":0.14},{"s":"Exoplanet Atmosphere Spectrum","wl":897.3,"t":0.247},{"s":"Exoplanet Atmosphere Spectrum","wl":898.5,"t":0.12},{"s":"Exoplanet Atmosphere Spectrum","wl":900,"t":0.11},{"s":"Exoplanet Atmosphere Spectrum","wl":902,"t":0.08},{"s":"Exoplanet Atmosphere Spectrum","wl":904,"t":0.1},{"s":"Exoplanet Atmosphere Spectrum","wl":906,"t":0.065},{"s":"Exoplanet Atmosphere Spectrum","wl":908.6,"t":0.054},{"s":"Exoplanet Atmosphere Spectrum","wl":910,"t":0.09},{"s":"Exoplanet Atmosphere Spectrum","wl":911,"t":0.14},{"s":"Exoplanet Atmosphere Spectrum","wl":912,"t":0.07},{"s":"Exoplanet Atmosphere Spectrum","wl":914,"t":0.15},{"s":"Exoplanet Atmosphere Spectrum","wl":915.7,"t":0.29},{"s":"Exoplanet Atmosphere Spectrum","wl":916.5,"t":0.1},{"s":"Exoplanet Atmosphere Spectrum","wl":918,"t":0.2},{"s":"Exoplanet Atmosphere Spectrum","wl":919,"t":0.12},{"s":"Exoplanet Atmosphere Spectrum","wl":920,"t":0.2},{"s":"Exoplanet Atmosphere Spectrum","wl":921.5,"t":0.1},{"s":"Exoplanet Atmosphere Spectrum","wl":923,"t":0.23},{"s":"Exoplanet Atmosphere Spectrum","wl":924,"t":0.13},{"s":"Exoplanet Atmosphere Spectrum","wl":925.7,"t":0.255},{"s":"Exoplanet Atmosphere Spectrum","wl":926.5,"t":0.14},{"s":"Exoplanet Atmosphere Spectrum","wl":928,"t":0.22},{"s":"Exoplanet Atmosphere Spectrum","wl":929.5,"t":0.1},{"s":"Exoplanet Atmosphere Spectrum","wl":931,"t":0.19},{"s":"Exoplanet Atmosphere Spectrum","wl":932.7,"t":0.273},{"s":"Exoplanet Atmosphere Spectrum","wl":933.5,"t":0.15},{"s":"Exoplanet Atmosphere Spectrum","wl":935,"t":0.11},{"s":"Exoplanet Atmosphere Spectrum","wl":936.5,"t":0.2},{"s":"Exoplanet Atmosphere Spectrum","wl":937.5,"t":0.13},{"s":"Exoplanet Atmosphere Spectrum","wl":938.4,"t":0.354},{"s":"Exoplanet Atmosphere Spectrum","wl":939.5,"t":0.2},{"s":"Exoplanet Atmosphere Spectrum","wl":940.5,"t":0.26},{"s":"Exoplanet Atmosphere Spectrum","wl":941.5,"t":0.15},{"s":"Exoplanet Atmosphere Spectrum","wl":943,"t":0.24},{"s":"Exoplanet Atmosphere Spectrum","wl":944,"t":0.12},{"s":"Exoplanet Atmosphere Spectrum","wl":945.5,"t":0.23},{"s":"Exoplanet Atmosphere Spectrum","wl":946.5,"t":0.1},{"s":"Exoplanet Atmosphere Spectrum","wl":948,"t":0.2},{"s":"Exoplanet Atmosphere Spectrum","wl":949,"t":0.12},{"s":"Exoplanet Atmosphere Spectrum","wl":950,"t":0.22},{"s":"Exoplanet Atmosphere Spectrum","wl":951.5,"t":0.13},{"s":"Exoplanet Atmosphere Spectrum","wl":953,"t":0.18},{"s":"Exoplanet Atmosphere Spectrum","wl":955,"t":0.12},{"s":"Exoplanet Atmosphere Spectrum","wl":957,"t":0.2},{"s":"Exoplanet Atmosphere Spectrum","wl":958.5,"t":0.13},{"s":"Exoplanet Atmosphere Spectrum","wl":961,"t":0.21},{"s":"Exoplanet Atmosphere Spectrum","wl":962,"t":0.12},{"s":"Exoplanet Atmosphere Spectrum","wl":964,"t":0.18},{"s":"Exoplanet Atmosphere Spectrum","wl":965.5,"t":0.11},{"s":"Exoplanet Atmosphere Spectrum","wl":967,"t":0.19},{"s":"Exoplanet Atmosphere Spectrum","wl":968.5,"t":0.12},{"s":"Exoplanet Atmosphere Spectrum","wl":970,"t":0.16},{"s":"Exoplanet Atmosphere Spectrum","wl":972,"t":0.11},{"s":"Exoplanet Atmosphere Spectrum","wl":974,"t":0.17},{"s":"Exoplanet Atmosphere Spectrum","wl":975.5,"t":0.12},{"s":"Exoplanet Atmosphere Spectrum","wl":977,"t":0.16},{"s":"Exoplanet Atmosphere Spectrum","wl":978.5,"t":0.11},{"s":"Exoplanet Atmosphere Spectrum","wl":980,"t":0.13},{"s":"Exoplanet Atmosphere Spectrum","wl":982,"t":0.12},{"s":"Exoplanet Atmosphere Spectrum","wl":985,"t":0.195},{"s":"Exoplanet Atmosphere Spectrum","wl":986.5,"t":0.12},{"s":"Exoplanet Atmosphere Spectrum","wl":988,"t":0.14},{"s":"Exoplanet Atmosphere Spectrum","wl":990,"t":0.115},{"s":"Exoplanet Atmosphere Spectrum","wl":992,"t":0.13},{"s":"Exoplanet Atmosphere Spectrum","wl":994,"t":0.11},{"s":"Exoplanet Atmosphere Spectrum","wl":996,"t":0.23},{"s":"Exoplanet Atmosphere Spectrum","wl":997,"t":0.12},{"s":"Exoplanet Atmosphere Spectrum","wl":999,"t":0.11},{"s":"Exoplanet Atmosphere Spectrum","wl":1002,"t":0.12},{"s":"Exoplanet Atmosphere Spectrum","wl":1005,"t":0.105},{"s":"Exoplanet Atmosphere Spectrum","wl":1008,"t":0.11},{"s":"Exoplanet Atmosphere Spectrum","wl":1010,"t":0.1},{"s":"Exoplanet Atmosphere Spectrum","wl":1013,"t":0.11},{"s":"Exoplanet Atmosphere Spectrum","wl":1016,"t":0.095},{"s":"Exoplanet Atmosphere Spectrum","wl":1019,"t":0.115},{"s":"Exoplanet Atmosphere Spectrum","wl":1021,"t":0.1},{"s":"Exoplanet Atmosphere Spectrum","wl":1024,"t":0.11},{"s":"Exoplanet Atmosphere Spectrum","wl":1026,"t":0.09},{"s":"Exoplanet Atmosphere Spectrum","wl":1029,"t":0.1},{"s":"Exoplanet Atmosphere Spectrum","wl":1031,"t":0.085},{"s":"Exoplanet Atmosphere Spectrum","wl":1033,"t":0.092},{"s":"Exoplanet Atmosphere Spectrum","wl":1036,"t":0.08},{"s":"Exoplanet Atmosphere Spectrum","wl":1039,"t":0.09},{"s":"Exoplanet Atmosphere Spectrum","wl":1041,"t":0.08},{"s":"Exoplanet Atmosphere Spectrum","wl":1043,"t":0.085},{"s":"Exoplanet Atmosphere Spectrum","wl":1045,"t":0.08},{"s":"Exoplanet Atmosphere Spectrum","wl":1047,"t":0.095},{"s":"Exoplanet Atmosphere Spectrum","wl":1049,"t":0.066},{"s":"Exoplanet Atmosphere Spectrum","wl":1050,"t":0.07}
],
"linesB": [
{"s":"Na(589 nm)","wl":589,"y0":0,"y1":0.9},
{"s":"O₃(630 nm)","wl":630,"y0":0,"y1":0.9},
{"s":"O₃ (650 nm)","wl":650,"y0":0,"y1":0.9}
],
"linesC": [
{"s":"O₂(690 nm)","wl":690,"y0":0,"y1":0.9},
{"s":"O₂(760 nm)","wl":760,"y0":0,"y1":0.9},
{"s":"K (770 nm)","wl":770,"y0":0,"y1":0.9},
{"s":"CH₄ (890 nm)","wl":890,"y0":0,"y1":0.9},
{"s":"H₂O (940 nm)","wl":940,"y0":0,"y1":0.9}
],
"veg": [
{"s":"Vegetation Red Edge","wl":405,"r":0.054},{"s":"Vegetation Red Edge","wl":420,"r":0.056},{"s":"Vegetation Red Edge","wl":432,"r":0.058},{"s":"Vegetation Red Edge","wl":446,"r":0.064},{"s":"Vegetation Red Edge","wl":460,"r":0.071},{"s":"Vegetation Red Edge","wl":475,"r":0.077},{"s":"Vegetation Red Edge","wl":488.6,"r":0.084},{"s":"Vegetation Red Edge","wl":497,"r":0.09},{"s":"Vegetation Red Edge","wl":505.7,"r":0.097},{"s":"Vegetation Red Edge","wl":514,"r":0.107},{"s":"Vegetation Red Edge","wl":522.7,"r":0.118},{"s":"Vegetation Red Edge","wl":531,"r":0.127},{"s":"Vegetation Red Edge","wl":539.7,"r":0.133},{"s":"Vegetation Red Edge","wl":548,"r":0.134},{"s":"Vegetation Red Edge","wl":556.7,"r":0.131},{"s":"Vegetation Red Edge","wl":565,"r":0.125},{"s":"Vegetation Red Edge","wl":573.8,"r":0.118},{"s":"Vegetation Red Edge","wl":581,"r":0.111},{"s":"Vegetation Red Edge","wl":588,"r":0.105},{"s":"Vegetation Red Edge","wl":595,"r":0.1},{"s":"Vegetation Red Edge","wl":602.2,"r":0.097},{"s":"Vegetation Red Edge","wl":616,"r":0.094},{"s":"Vegetation Red Edge","wl":630.5,"r":0.092},{"s":"Vegetation Red Edge","wl":645,"r":0.09},{"s":"Vegetation Red Edge","wl":658.9,"r":0.088},{"s":"Vegetation Red Edge","wl":664.6,"r":0.088},{"s":"Vegetation Red Edge","wl":672,"r":0.091},{"s":"Vegetation Red Edge","wl":678.8,"r":0.097},{"s":"Vegetation Red Edge","wl":686,"r":0.105},{"s":"Vegetation Red Edge","wl":692.9,"r":0.114},{"s":"Vegetation Red Edge","wl":699,"r":0.128},{"s":"Vegetation Red Edge","wl":704.3,"r":0.144},{"s":"Vegetation Red Edge","wl":707.1,"r":0.165},{"s":"Vegetation Red Edge","wl":711,"r":0.183},{"s":"Vegetation Red Edge","wl":715.7,"r":0.204},{"s":"Vegetation Red Edge","wl":720,"r":0.245},{"s":"Vegetation Red Edge","wl":724.2,"r":0.29},{"s":"Vegetation Red Edge","wl":728,"r":0.32},{"s":"Vegetation Red Edge","wl":732.7,"r":0.35},{"s":"Vegetation Red Edge","wl":737,"r":0.39},{"s":"Vegetation Red Edge","wl":741.2,"r":0.427},{"s":"Vegetation Red Edge","wl":746.9,"r":0.47},{"s":"Vegetation Red Edge","wl":751,"r":0.49},{"s":"Vegetation Red Edge","wl":755.4,"r":0.505},{"s":"Vegetation Red Edge","wl":760,"r":0.52},{"s":"Vegetation Red Edge","wl":763.9,"r":0.535},{"s":"Vegetation Red Edge","wl":770,"r":0.548},{"s":"Vegetation Red Edge","wl":775.3,"r":0.556},{"s":"Vegetation Red Edge","wl":783,"r":0.562},{"s":"Vegetation Red Edge","wl":792.3,"r":0.567},{"s":"Vegetation Red Edge","wl":805,"r":0.57},{"s":"Vegetation Red Edge","wl":820.7,"r":0.572},{"s":"Vegetation Red Edge","wl":850,"r":0.573},{"s":"Vegetation Red Edge","wl":870,"r":0.573},{"s":"Vegetation Red Edge","wl":891.6,"r":0.573},{"s":"Vegetation Red Edge","wl":905,"r":0.573},{"s":"Vegetation Red Edge","wl":920,"r":0.572},{"s":"Vegetation Red Edge","wl":932,"r":0.569},{"s":"Vegetation Red Edge","wl":942.7,"r":0.565},{"s":"Vegetation Red Edge","wl":950,"r":0.559},{"s":"Vegetation Red Edge","wl":956,"r":0.552},{"s":"Vegetation Red Edge","wl":962.5,"r":0.546},{"s":"Vegetation Red Edge","wl":969,"r":0.542},{"s":"Vegetation Red Edge","wl":976.7,"r":0.541},{"s":"Vegetation Red Edge","wl":985,"r":0.54},{"s":"Vegetation Red Edge","wl":993.7,"r":0.541}
]
},
"layer": [
{
  "data": {"name": "filters"},
  "mark": {"type": "line", "strokeWidth": 1.5},
  "encoding": {
    "x": {"field": "wl", "type": "quantitative", "scale": {"domain": [300, 1050], "nice": false, "zero": false},
      "axis": {"title": "Wavelength (nm)", "values": [300,400,500,600,700,800,900,1000], "format": "d", "labelFlush": false, "ticks": false, "labelFontSize": 15, "labelPadding": 8, "titleFontSize": 19, "titlePadding": 6}},
    "y": {"field": "t", "type": "quantitative", "scale": {"domain": [0, 1.5], "nice": false},
      "axis": {"title": "Fractional LSST Throughput Response", "titleFontSize": 19, "titlePadding": 8,
        "values": [0,0.05,0.1,0.15,0.2,0.25,0.3,0.35,0.4,0.45,0.5,0.55,0.6,0.65,0.7,0.75,0.8,0.85,0.9,0.95,1.0,1.05,1.1,1.15,1.2,1.25,1.3,1.35,1.4,1.45,1.5],
        "labelExpr": "abs(datum.value*5 - round(datum.value*5)) < 0.001 ? format(datum.value, '.1f') : ''",
        "labelOverlap": false, "labelFontSize": 15, "labelPadding": 3,
        "tickSize": {"condition": {"test": "abs(datum.value*5 - round(datum.value*5)) < 0.001", "value": 8}, "value": 5},
        "tickWidth": 1.5}},
    "detail": {"field": "b"},
    "color": {"field": "b", "type": "nominal",
      "scale": {"domain": ["u","g","r","i","z","y"], "range": ["#3574b8","#f5894b","#05a55a","#e0464e","#8470b5","#9a7356"]},
      "legend": {"title": null, "orient": "none", "legendX": 20, "legendY": 13, "symbolType": "M-1.65,0H1.65", "symbolSize": 400, "symbolStrokeWidth": 2, "rowPadding": 3.5, "labelOffset": 18}}
  }
},
{
  "layer": [
    {
      "data": {"name": "spectra"},
      "mark": {"type": "line"},
      "encoding": {
        "x": {"field": "wl", "type": "quantitative"},
        "y": {"field": "t", "type": "quantitative", "scale": {"domain": [0, 1.5], "nice": false}, "axis": null},
        "color": {"field": "s", "type": "nominal", "scale": {"domain": ["Atmosphere Throughput","Exoplanet Atmosphere Spectrum","Na(589 nm)","O₃(630 nm)","O₃ (650 nm)"], "range": ["#111111","#2d70b4","#f77189","#dc8932","#97a52a"]},
          "legend": {"title": null, "orient": "none", "legendX": 111, "legendY": 13, "symbolType": "M-1.65,0H1.65", "symbolSize": 400, "symbolStrokeWidth": 3, "rowPadding": 3.5, "labelOffset": 21}},
        "strokeDash": {"field": "s", "type": "nominal", "scale": {"domain": ["Atmosphere Throughput","Exoplanet Atmosphere Spectrum","Na(589 nm)","O₃(630 nm)","O₃ (650 nm)"], "range": [[12.8,3.2,2,3.2],[1,0],[3.3,5.4],[3.3,5.4],[3.3,5.4]]},
          "legend": {"title": null}},
        "strokeWidth": {"field": "s", "type": "nominal", "scale": {"domain": ["Atmosphere Throughput","Exoplanet Atmosphere Spectrum"], "range": [2,2.5]}, "legend": null}
      }
    },
    {
      "data": {"name": "linesB"},
      "mark": {"type": "rule", "strokeWidth": 3.3},
      "encoding": {
        "x": {"field": "wl", "type": "quantitative"},
        "y": {"field": "y0", "type": "quantitative"},
        "y2": {"field": "y1"},
        "color": {"field": "s", "type": "nominal"},
        "strokeDash": {"field": "s", "type": "nominal"}
      }
    }
  ]
},
{
  "data": {"name": "linesC"},
  "mark": {"type": "rule", "strokeWidth": 3.3},
  "encoding": {
    "x": {"field": "wl", "type": "quantitative"},
    "y": {"field": "y0", "type": "quantitative", "scale": {"domain": [0, 1.5], "nice": false}, "axis": null},
    "y2": {"field": "y1"},
    "color": {"field": "s", "type": "nominal", "scale": {"domain": ["O₂(690 nm)","O₂(760 nm)","K (770 nm)","CH₄ (890 nm)","H₂O (940 nm)"], "range": ["#1db45f","#22ada5","#1eaed0","#a48cf4","#fa5be0"]},
      "legend": {"title": null, "orient": "none", "legendX": 420, "legendY": 13, "symbolType": "M-1.65,0H1.65", "symbolSize": 400, "symbolStrokeWidth": 3, "rowPadding": 3.5, "labelOffset": 22}},
    "strokeDash": {"field": "s", "type": "nominal", "scale": {"domain": ["O₂(690 nm)","O₂(760 nm)","K (770 nm)","CH₄ (890 nm)","H₂O (940 nm)"], "range": [[3.3,5.4],[3.3,5.4],[3.3,5.4],[3.3,5.4],[3.3,5.4]]}, "legend": {"title": null}}
  }
},
{
  "data": {"name": "veg"},
  "mark": {"type": "line", "strokeWidth": 4.5, "strokeCap": "round"},
  "encoding": {
    "x": {"field": "wl", "type": "quantitative"},
    "y": {"field": "r", "type": "quantitative", "scale": {"domain": [0, 1.5], "nice": false},
      "axis": {"orient": "right", "title": "Reflectance", "titleAngle": 270, "titleBaseline": "top", "titleFontSize": 19, "titlePadding": 4,
        "values": [0,0.05,0.1,0.15,0.2,0.25,0.3,0.35,0.4,0.45,0.5,0.55,0.6,0.65,0.7,0.75,0.8,0.85,0.9,0.95,1.0,1.05,1.1,1.15,1.2,1.25,1.3,1.35,1.4,1.45,1.5],
        "labelExpr": "abs(datum.value*5 - round(datum.value*5)) < 0.001 ? format(datum.value, '.1f') : ''",
        "labelOverlap": false, "labelFontSize": 12, "labelPadding": 3,
        "tickSize": {"condition": {"test": "abs(datum.value*5 - round(datum.value*5)) < 0.001", "value": 8}, "value": 5},
        "tickWidth": 1.5}},
    "color": {"field": "s", "type": "nominal", "scale": {"domain": ["Vegetation Red Edge"], "range": ["#e0474d"]},
      "legend": {"title": null, "orient": "none", "legendX": 665, "legendY": 5, "symbolType": "stroke", "symbolSize": 1296, "symbolStrokeWidth": 4.5, "labelOffset": 12}}
  }
}
],
"resolve": {"scale": {"y": "independent", "color": "independent", "strokeDash": "independent", "strokeWidth": "independent"}, "axis": {"y": "independent"}}
}
